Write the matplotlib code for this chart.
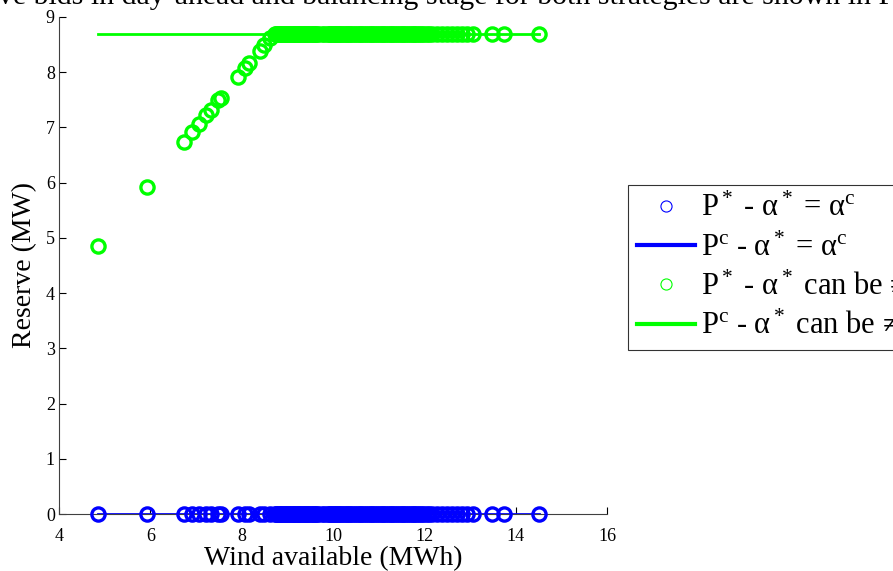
import matplotlib.pyplot as plt
from matplotlib.lines import Line2D

plt.rcParams['font.family'] = ['Liberation Serif', 'DejaVu Serif']
plt.rcParams['mathtext.fontset'] = 'custom'
plt.rcParams['mathtext.rm'] = 'Liberation Serif'
plt.rcParams['mathtext.it'] = 'Liberation Serif'

# wind scenarios where the flexible reserve is below the cap
wind_low = [4.85, 5.93, 6.74, 6.92, 7.06, 7.22, 7.32, 7.49, 7.54, 7.91, 8.08, 8.16,
            8.39, 8.49, 8.61]
reserve_low = [4.85, 5.93, 6.74, 6.92, 7.06, 7.22, 7.32, 7.49, 7.54, 7.91, 8.08, 8.16,
               8.39, 8.49, 8.61]

# wind scenarios where the reserve sits at the cap
wind_high = [8.72, 8.75, 8.78, 8.81, 8.84, 8.86, 8.89, 8.92, 8.95, 8.98, 9.01, 9.03,
             9.06, 9.09, 9.12, 9.14, 9.17, 9.2, 9.23, 9.26, 9.28, 9.31, 9.34, 9.37,
             9.4, 9.43, 9.46, 9.49, 9.52, 9.55, 9.58, 9.61, 9.64, 9.68, 9.75, 9.81,
             9.86, 9.9, 9.93, 9.96, 9.99, 10.02, 10.05, 10.08, 10.11, 10.14, 10.17,
             10.2, 10.24, 10.28, 10.31, 10.35, 10.38, 10.42, 10.46, 10.5, 10.54,
             10.58, 10.62, 10.66, 10.7, 10.74, 10.78, 10.82, 10.86, 10.9, 10.94,
             10.98, 11.02, 11.06, 11.1, 11.14, 11.18, 11.22, 11.26, 11.3, 11.34,
             11.38, 11.42, 11.46, 11.5, 11.54, 11.58, 11.62, 11.66, 11.7, 11.74,
             11.78, 11.82, 11.86, 11.9, 11.95, 12.0, 12.05, 12.1, 12.16, 12.27,
             12.38, 12.49, 12.6, 12.71, 12.82, 12.93, 13.07, 13.47, 13.73, 14.5]
reserve_cap = 8.7

wind = wind_low + wind_high
reserve_flex = reserve_low + [reserve_cap] * len(wind_high)
reserve_fixed = [0.0] * len(wind)

blue = '#0000ff'
green = '#00ff00'

fig = plt.figure(figsize=(8.93, 5.71), dpi=100)
ax = fig.add_axes([0.066, 0.0998, 0.614, 0.8705])

# lines: P^c reserve
ax.plot([min(wind), max(wind)], [0, 0], color=blue, lw=2, zorder=2)
ax.plot([min(wind), max(wind)], [reserve_cap, reserve_cap], color=green, lw=2, zorder=2)
# points: P* reserve
ax.plot(wind, reserve_fixed, 'o', mfc='none', mec=blue, mew=2.4, ms=9.5, zorder=3,
        clip_on=False)
ax.plot(wind, reserve_flex, 'o', mfc='none', mec=green, mew=2.4, ms=9.5, zorder=3,
        clip_on=False)

ax.set_xlim(4, 16)
ax.set_ylim(0, 9)
ax.set_xticks(range(4, 17, 2))
ax.set_yticks(range(0, 10))
ax.tick_params(direction='in', length=5, labelsize=13)
ax.tick_params(axis='x', pad=10)
ax.tick_params(axis='y', pad=3)
for s in ['top', 'right']:
    ax.spines[s].set_visible(False)
for s in ['left', 'bottom']:
    ax.spines[s].set_color('#404040')
ax.set_xlabel('Wind available (MWh)', fontsize=20, labelpad=1)
ax.set_ylabel('Reserve (MW)', fontsize=20, labelpad=6)

handles = [
    Line2D([], [], ls='none', marker='o', mfc='none', mec=blue, ms=8, mew=0.8),
    Line2D([], [], color=blue, lw=3),
    Line2D([], [], ls='none', marker='o', mfc='none', mec=green, ms=8, mew=0.8),
    Line2D([], [], color=green, lw=3),
]
labels = ['P$^*$ - α$^*$ = α$^\\mathrm{c}$',
          'P$^\\mathrm{c}$ - α$^*$ = α$^\\mathrm{c}$',
          'P$^*$ - α$^*$ can be ≠ α$^\\mathrm{c}$',
          'P$^\\mathrm{c}$ - α$^*$ can be ≠ α$^\\mathrm{c}$']
leg = fig.legend(handles, labels, loc='upper left', bbox_to_anchor=(0.703, 0.676),
                 borderaxespad=0, fontsize=22, frameon=True, fancybox=False,
                 edgecolor='black', borderpad=0.3, labelspacing=0.33,
                 handlelength=1.9, handletextpad=0.2)
leg.get_frame().set_linewidth(0.8)

fig.text(-0.002, 0.993, 've bids in day-ahead and balancing stage for both strategies are shown in Fig',
         fontsize=21.5, va='baseline', ha='left')

fig.savefig('out.png', dpi=100)
